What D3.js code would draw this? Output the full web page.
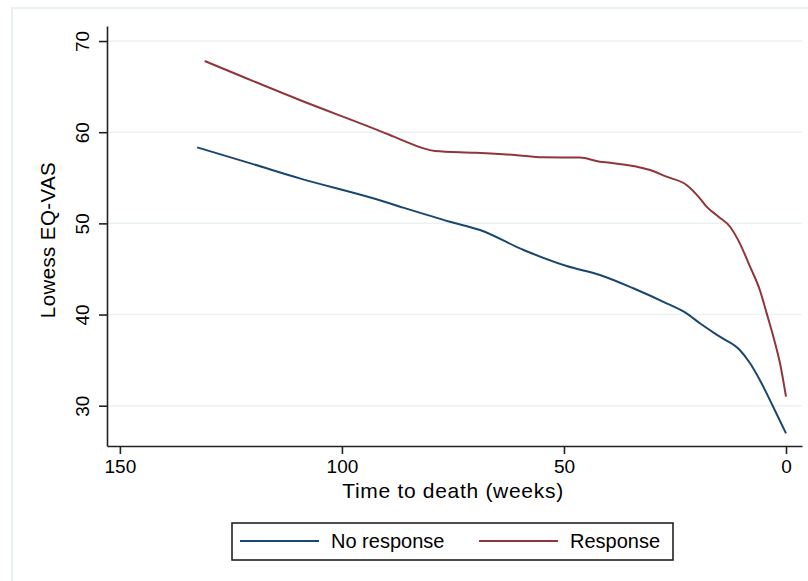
<!DOCTYPE html>
<html>
<head>
<meta charset="utf-8">
<script src="https://cdn.jsdelivr.net/npm/d3@7"></script>
<style>
  html, body { margin: 0; padding: 0; background: #fff; }
  svg { display: block; font-family: "Liberation Sans", Arial, sans-serif; }
</style>
</head>
<body>
<svg id="chart" width="808" height="581"></svg>
<script>
// Lowess-smoothed EQ-VAS against weeks before death, by response group
const noResponseWeeks  = [132.6, 120, 109.5, 92.2, 86.9, 75.7, 68.9, 59.1, 49.4, 41.9, 34.4, 26.9, 22.4, 19.4, 14.9, 10.4, 8.1, 5.9, 2.9, 0];
const noResponseValues = [58.34, 56.5, 54.94, 52.64, 51.83, 50.18, 49.27, 47.08, 45.32, 44.34, 42.88, 41.23, 40.13, 39.04, 37.57, 36.11, 34.65, 32.82, 29.89, 26.97];

const responseWeeks  = [130.9, 109.5, 89.2, 86.9, 79.05, 70.0, 61.0, 54.7, 46.4, 41.9, 39.6, 30.6, 26.9, 22.4, 19.4, 17.9, 15.2, 12.6, 10.4, 8.1, 5.9, 4.35, 2.85, 1.35, 0];
const responseValues = [67.81, 63.53, 59.69, 59.22, 57.94, 57.75, 57.5, 57.25, 57.22, 56.76, 56.65, 55.85, 55.12, 54.21, 52.75, 51.83, 50.73, 49.63, 47.81, 45.25, 42.69, 40.13, 37.57, 34.65, 30.99];

const xTicks = [150, 100, 50, 0];
const yTicks = [30, 40, 50, 60, 70];
const seriesNames = ["No response", "Response"];
const seriesColors = ["#1a476f", "#90353b"];

const svg = d3.select("#chart");

// outer graph frame
svg.append("rect")
  .attr("x", 12).attr("y", 8).attr("width", 820).attr("height", 620)
  .attr("fill", "#fff").attr("stroke", "#e9f0f1").attr("stroke-width", 2);

const x = d3.scaleLinear().domain([152.9, -3.6]).range([107, 802]);
const y = d3.scaleLinear().domain([25.58, 71.65]).range([446, 26]);

// horizontal grid
svg.append("g").selectAll("line").data(yTicks).join("line")
  .attr("x1", 108).attr("x2", 802)
  .attr("y1", d => y(d)).attr("y2", d => y(d))
  .attr("stroke", "#eaf2f3").attr("stroke-width", 1.5);

// series
const line = d3.line().x(d => x(d[0])).y(d => y(d[1])).curve(d3.curveMonotoneX);
const series = [
  d3.zip(noResponseWeeks, noResponseValues),
  d3.zip(responseWeeks, responseValues)
];
svg.append("g").selectAll("path").data(series).join("path")
  .attr("d", line)
  .attr("fill", "none")
  .attr("stroke", (d, i) => seriesColors[i])
  .attr("stroke-width", 2);

// y axis
const yAxis = svg.append("g").attr("transform", "translate(107,0)")
  .call(d3.axisLeft(y).tickValues(yTicks).tickSize(8).tickSizeOuter(0).tickPadding(0));
yAxis.select(".domain").attr("stroke", "#222").attr("stroke-width", 1.6);
yAxis.selectAll(".tick line").attr("stroke", "#222").attr("stroke-width", 1.6);
yAxis.selectAll(".tick text")
  .attr("x", null).attr("dy", null)
  .attr("transform", "translate(-18,0) rotate(-90)")
  .attr("text-anchor", "middle")
  .attr("font-size", 19).attr("fill", "#000")
  .attr("font-family", "Liberation Sans, Arial, sans-serif");

// x axis
const xAxis = svg.append("g").attr("transform", "translate(0,446)")
  .call(d3.axisBottom(x).tickValues(xTicks).tickSize(8).tickSizeOuter(0).tickPadding(0));
xAxis.select(".domain").attr("stroke", "#222").attr("stroke-width", 1.6);
xAxis.selectAll(".tick line").attr("stroke", "#222").attr("stroke-width", 1.6);
xAxis.selectAll(".tick text")
  .attr("y", 27).attr("dy", null)
  .attr("font-size", 19).attr("fill", "#000")
  .attr("font-family", "Liberation Sans, Arial, sans-serif");

// axis titles
svg.append("text")
  .attr("x", 453).attr("y", 498)
  .attr("text-anchor", "middle").attr("font-size", 21)
  .attr("letter-spacing", 0.7)
  .text("Time to death (weeks)");
svg.append("text")
  .attr("transform", "translate(55,240) rotate(-90)")
  .attr("text-anchor", "middle").attr("font-size", 20.5)
  .attr("letter-spacing", 0.4)
  .text("Lowess EQ-VAS");

// legend
const legend = svg.append("g");
legend.append("rect")
  .attr("x", 232).attr("y", 523).attr("width", 441).attr("height", 37)
  .attr("fill", "#fff").attr("stroke", "#222").attr("stroke-width", 1.6);
const keyX = [240, 479];
seriesNames.forEach((name, i) => {
  legend.append("line")
    .attr("x1", keyX[i]).attr("x2", keyX[i] + 79)
    .attr("y1", 541).attr("y2", 541)
    .attr("stroke", seriesColors[i]).attr("stroke-width", 2);
  legend.append("text")
    .attr("x", keyX[i] + 91).attr("y", 548)
    .attr("font-size", 20)
    .text(name);
});
</script>
</body>
</html>
